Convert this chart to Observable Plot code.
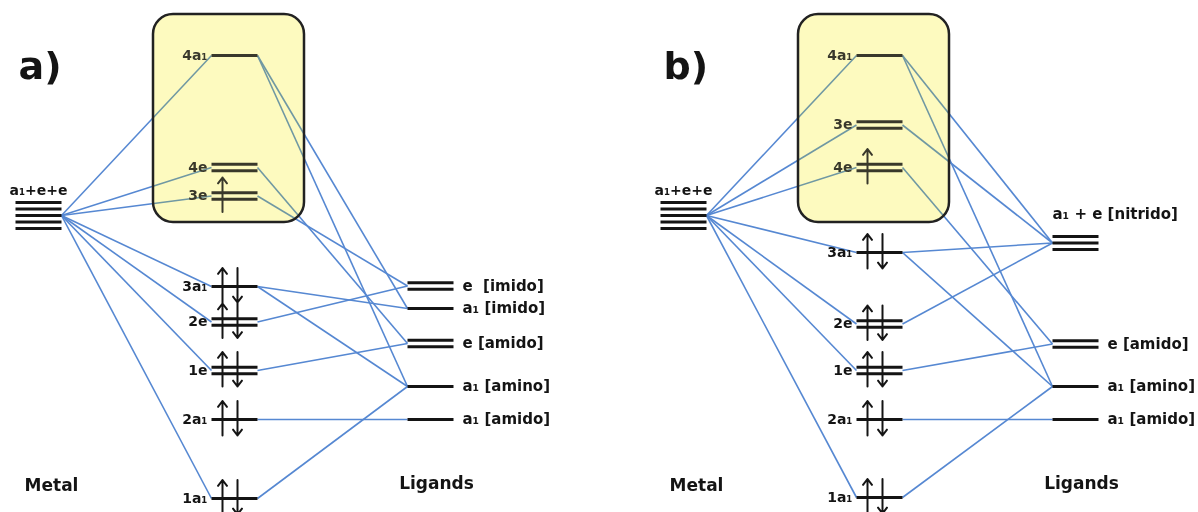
<!DOCTYPE html>
<html><head><meta charset="utf-8">
<script src="https://cdn.jsdelivr.net/npm/d3@7"></script>
<script src="https://cdn.jsdelivr.net/npm/@observablehq/plot@0.6"></script>
<style>body{margin:0;background:#fff;} #chart svg{display:block;}</style>
</head><body><div id="chart"></div>
<script>
const panels = ["a)", "b)"];
const columns = ["Metal", "MO", "Ligands"];
const frontierWindow = [55.6, 97.2]; // energy window of the highlighted frontier orbitals

// Panel a) — energies in arbitrary units
const aNames = ["a₁+e+e","4a₁","4e","3e","3a₁","2e","1e","2a₁","1a₁","e\u00a0\u00a0[imido]","a₁ [imido]","e [amido]","a₁ [amino]","a₁ [amido]"];
const aColumns = ["Metal","MO","MO","MO","MO","MO","MO","MO","MO","Ligands","Ligands","Ligands","Ligands","Ligands"];
const aEnergy = [57, 89, 66.6, 60.9, 42.8, 35.7, 26, 16.2, 0.4, 42.9, 38.4, 31.4, 22.8, 16.2];
const aDegeneracy = [5,1,2,2,1,2,2,1,1,2,1,2,1,1];
const aElectrons = [0,0,0,1,2,2,2,2,2,0,0,0,0,0];
const aLinks = [
  ["a₁+e+e","4a₁"],["a₁+e+e","4e"],["a₁+e+e","3e"],["a₁+e+e","3a₁"],["a₁+e+e","2e"],["a₁+e+e","1e"],["a₁+e+e","1a₁"],
  ["4a₁","a₁ [imido]"],["4a₁","a₁ [amino]"],["4e","e [amido]"],["3e","e\u00a0\u00a0[imido]"],
  ["3a₁","a₁ [imido]"],["3a₁","a₁ [amino]"],["2e","e\u00a0\u00a0[imido]"],["1e","e [amido]"],
  ["2a₁","a₁ [amido]"],["1a₁","a₁ [amino]"]
];

// Panel b)
const bNames = ["a₁+e+e","4a₁","3e","4e","3a₁","2e","1e","2a₁","1a₁","a₁ + e [nitrido]","e [amido]","a₁ [amino]","a₁ [amido]"];
const bColumns = ["Metal","MO","MO","MO","MO","MO","MO","MO","MO","Ligands","Ligands","Ligands","Ligands"];
const bEnergy = [57, 89, 75.1, 66.6, 49.6, 35.3, 26, 16.2, 0.6, 51.5, 31.3, 22.8, 16.2];
const bDegeneracy = [5,1,2,2,1,2,2,1,1,3,2,1,1];
const bElectrons = [0,0,0,1,2,2,2,2,2,0,0,0,0];
const bLinks = [
  ["a₁+e+e","4a₁"],["a₁+e+e","3e"],["a₁+e+e","4e"],["a₁+e+e","3a₁"],["a₁+e+e","2e"],["a₁+e+e","1e"],["a₁+e+e","1a₁"],
  ["4a₁","a₁ + e [nitrido]"],["4a₁","a₁ [amino]"],["3e","a₁ + e [nitrido]"],["4e","e [amido]"],
  ["3a₁","a₁ + e [nitrido]"],["3a₁","a₁ [amino]"],["2e","a₁ + e [nitrido]"],["1e","e [amido]"],
  ["2a₁","a₁ [amido]"],["1a₁","a₁ [amino]"]
];

// ---- derived tables ----
const hw = 23 / 196;          // half level width (column units)
const unit = 5;               // px per energy unit
const gap = 6.5 / unit;       // spacing of degenerate lines
function build(panel, names, cols, E, deg, el) {
  return names.map((n, i) => ({panel, name: n, column: cols[i], col: columns.indexOf(cols[i]), E: E[i], deg: deg[i], elec: el[i]}));
}
const levels = [
  ...build("a)", aNames, aColumns, aEnergy, aDegeneracy, aElectrons),
  ...build("b)", bNames, bColumns, bEnergy, bDegeneracy, bElectrons)
];
const find = (p, n) => levels.find(d => d.panel === p && d.name === n);
const links = [
  ...aLinks.map(([s, t]) => ({panel: "a)", s: find("a)", s), t: find("a)", t)})),
  ...bLinks.map(([s, t]) => ({panel: "b)", s: find("b)", s), t: find("b)", t)}))
];
const lines = levels.flatMap(d => d3.range(d.deg).map(k => ({...d, yy: d.E + (k - (d.deg - 1) / 2) * gap})));
const arrows = levels.flatMap(d => {
  const out = [];
  if (d.elec >= 1) out.push({...d, x: d.col - 12 / 196, y1: d.E - 3.2, y2: d.E + 3.7});
  if (d.elec >= 2) out.push({...d, x: d.col + 3 / 196, y1: d.E + 3.7, y2: d.E - 3.2});
  return out;
});
const headers = panels.flatMap(p => columns.filter(c => c !== "MO").map(c => ({panel: p, column: c, col: columns.indexOf(c)})));

const ink = "#141414";
const boxFill = "#fdfbbf";
const chart = Plot.plot({
  width: 1198, height: 512,
  marginTop: 0, marginRight: 0, marginBottom: 0, marginLeft: 0,
  style: {fontFamily: "DejaVu Sans", fontWeight: "bold", background: "#fff", overflow: "visible"},
  fx: {domain: panels, paddingInner: 0.1455, paddingOuter: 0, axis: null},
  x: {domain: [0, 2], range: [37, 429], axis: null},
  y: {domain: [0, 100], range: [500, 0], axis: null},
  marks: [
    Plot.link(links, {fx: "panel", x1: d => d.s.col + hw, y1: d => d.s.E, x2: d => d.t.col - hw, y2: d => d.t.E,
      stroke: "#5688d2", strokeWidth: 1.6}),
    Plot.link(lines, {fx: "panel", x1: d => d.col - hw, x2: d => d.col + hw, y1: "yy", y2: "yy", stroke: ink, strokeWidth: 3.2}),
    Plot.arrow(arrows, {fx: "panel", x: "x", y1: "y1", y2: "y2", stroke: ink, strokeWidth: 2, headLength: 5.5, headAngle: 75}),
    // metal label (above stack)
    Plot.text(levels.filter(d => d.column === "Metal"), {fx: "panel", x: "col", y: "E", dy: -25, text: "name", fontSize: 14, fill: ink}),
    // MO labels
    Plot.text(levels.filter(d => d.column === "MO"), {fx: "panel", x: d => d.col - hw, y: "E", dx: -4, textAnchor: "end", text: "name", fontSize: 14, fill: ink}),
    // ligand labels
    Plot.text(levels.filter(d => d.column === "Ligands" && d.deg <= 2), {fx: "panel", x: d => d.col + hw, y: "E", dx: 9, textAnchor: "start", text: "name", fontSize: 15, fill: ink}),
    Plot.text(levels.filter(d => d.column === "Ligands" && d.deg > 2), {fx: "panel", x: d => d.col - hw, y: "E", dy: -29, textAnchor: "start", text: "name", fontSize: 15, fill: ink}),
    // column headers
    Plot.text(headers.filter(d => d.column === "Metal"), {fx: "panel", x: "col", frameAnchor: "bottom", dy: -22, dx: 13, text: "column", fontSize: 17, fill: ink}),
    Plot.text(headers.filter(d => d.column === "Ligands"), {fx: "panel", x: "col", frameAnchor: "bottom", dy: -24, dx: 6, text: "column", fontSize: 17, fill: ink}),
    // panel letters
    Plot.text(panels, {fx: d => d, text: d => d, frameAnchor: "top-left", dx: 17, dy: 52, textAnchor: "start", fontSize: 38, fill: ink}),
    // frontier box
    Plot.rect(panels, {fx: d => d, x1: 1 - 81 / 196, x2: 1 + 70 / 196, y1: frontierWindow[0], y2: frontierWindow[1], fill: boxFill, mixBlendMode: "multiply", rx: 20}),
    Plot.rect(panels, {fx: d => d, x1: 1 - 81 / 196, x2: 1 + 70 / 196, y1: frontierWindow[0], y2: frontierWindow[1], fill: boxFill, fillOpacity: 0.16, rx: 20}),
    Plot.rect(panels, {fx: d => d, x1: 1 - 81 / 196, x2: 1 + 70 / 196, y1: frontierWindow[0], y2: frontierWindow[1], fill: "none", stroke: "#222", strokeWidth: 2.5, rx: 20})
  ]
});
document.getElementById("chart").append(chart);
</script>
</body></html>
